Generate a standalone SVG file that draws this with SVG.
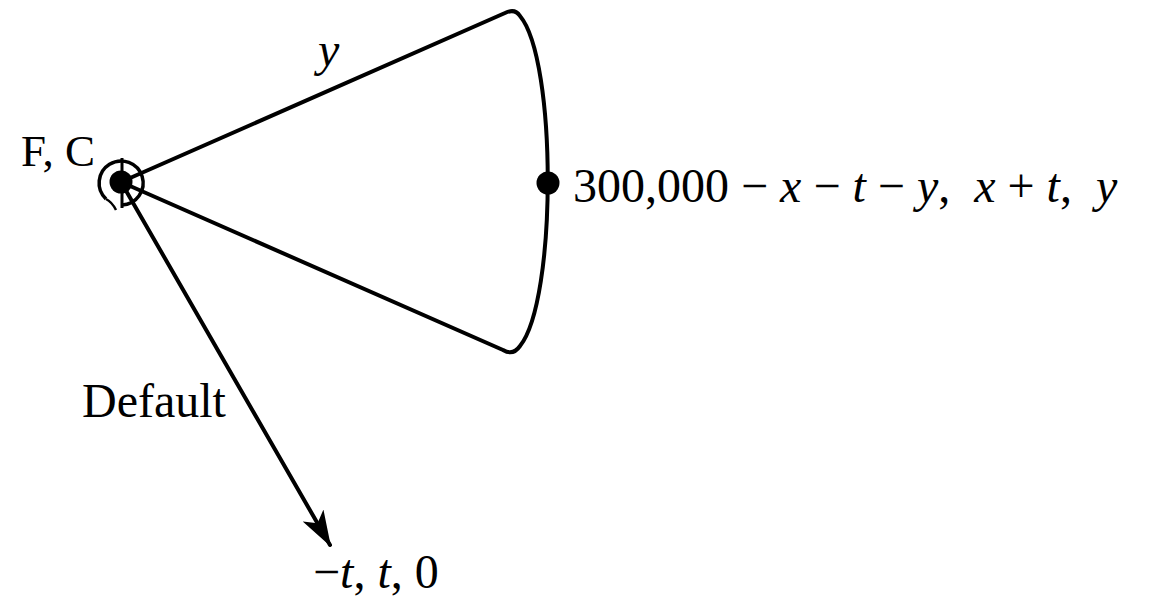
<svg xmlns="http://www.w3.org/2000/svg" width="1150" height="600" viewBox="0 0 1150 600">
<defs>
<style>
.ln{fill:none;stroke:#000;stroke-width:4;stroke-linejoin:round;stroke-linecap:round}
.t{font-family:"Liberation Serif","Times New Roman",serif;font-size:48px;fill:#000}
.i{font-style:italic}
</style>
<marker id="ah" markerWidth="36" markerHeight="24" viewBox="0 0 36 24" refX="34" refY="12" orient="auto" markerUnits="userSpaceOnUse">
<path d="M0,0 L36,12 L0,24 L9,12 Z" fill="#000"/>
</marker>
</defs>
<rect width="1150" height="600" fill="#fff"/>
<g id="connectors">
<path class="ln" d="M121,182 L505,13 Q515,8 520,16 C557,60 557,300 520,346 Q513,356 503,350 L121,182"/>
<path class="ln" d="M121,182 L330,545" marker-end="url(#ah)"/>
</g>
<g id="node-fc">
<path d="M106,199 A22,22 0 1 1 122,205" fill="none" stroke="#000" stroke-width="3.5"/>
<path d="M106,199 Q112,202 116,210" fill="none" stroke="#000" stroke-width="2.5"/>
<line x1="122" y1="158" x2="122" y2="208" stroke="#000" stroke-width="3"/>
<circle cx="121" cy="182" r="11.5" fill="#000"/>
<text class="t" x="21" y="166" style="font-size:45px">F, C</text>
</g>
<g id="node-mid">
<circle cx="548" cy="183" r="11.5" fill="#000"/>
<text class="t" x="573" y="202">300,000 − <tspan class="i">x</tspan> − <tspan class="i">t</tspan> − <tspan class="i">y</tspan>,&#160; <tspan class="i">x</tspan> + <tspan class="i">t</tspan>,&#160; <tspan class="i">y</tspan></text>
</g>
<g id="node-end">
<text class="t" x="313" y="588">−<tspan class="i">t</tspan>, <tspan class="i">t</tspan>, 0</text>
</g>
<text class="t i" x="318" y="66">y</text>
<text class="t" x="82" y="417">Default</text>
</svg>
